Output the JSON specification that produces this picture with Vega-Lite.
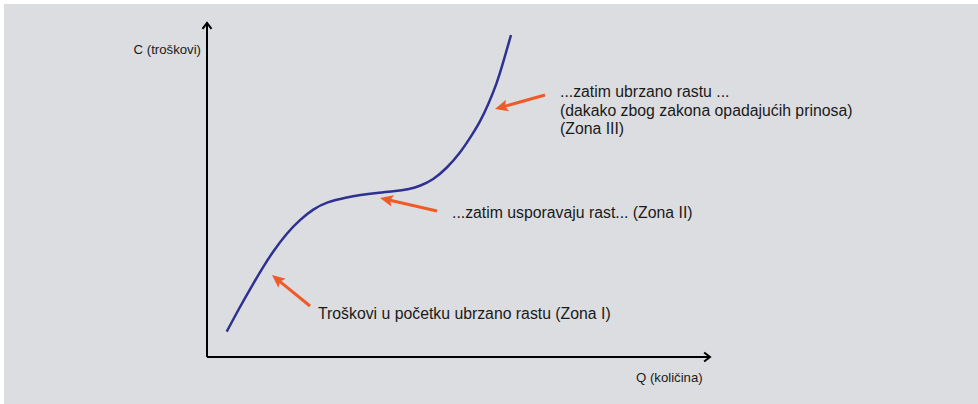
{
  "$schema": "https://vega.github.io/schema/vega-lite/v6.json",
  "width": 974,
  "height": 400,
  "autosize": {"type": "none"},
  "padding": {"left": 4, "top": 4, "right": 0, "bottom": 0},
  "background": "#ffffff",
  "config": {"view": {"fill": "#dcdde0", "stroke": null}},
  "datasets": {
    "curve": [
      {"Q": 1.97, "C": 2.53}, {"Q": 3.3, "C": 5.03}, {"Q": 4.63, "C": 7.35}, {"Q": 5.63, "C": 9.03},
      {"Q": 6.63, "C": 10.6}, {"Q": 7.97, "C": 12.37}, {"Q": 9.3, "C": 13.75}, {"Q": 10.63, "C": 14.8},
      {"Q": 11.97, "C": 15.5}, {"Q": 13.97, "C": 15.97},
      {"Q": 15.3, "C": 16.2}, {"Q": 17.0, "C": 16.4}, {"Q": 18.6, "C": 16.55}, {"Q": 20.3, "C": 16.8},
      {"Q": 21.3, "C": 17.1}, {"Q": 22.6, "C": 17.7}, {"Q": 24.0, "C": 18.9}, {"Q": 25.3, "C": 20.4},
      {"Q": 26.3, "C": 21.9}, {"Q": 27.3, "C": 23.5}, {"Q": 28.1, "C": 25.2}, {"Q": 29.0, "C": 27.4},
      {"Q": 29.6, "C": 29.4}, {"Q": 30.4, "C": 32.2}
    ],
    "arrows": [
      {"tq": 10.3, "tc": 5.1, "hq": 6.5, "hc": 8.2},
      {"tq": 23.0, "tc": 14.6, "hq": 17.3, "hc": 15.9},
      {"tq": 33.8, "tc": 26.2, "hq": 28.8, "hc": 24.8}
    ],
    "axes": [
      {"q": 0, "c": 0, "q2": 0, "c2": 33.4, "ang": -90},
      {"q": 0, "c": 0, "q2": 50.3, "c2": 0, "ang": 0}
    ],
    "yTitle": [{"text": "C (troškovi)", "q": -0.6, "c": 30.3}],
    "xTitle": [{"text": "Q (količina)", "q": 42.9, "c": -2.5}],
    "labels": [
      {"text": "Troškovi u početku ubrzano rastu (Zona I)", "q": 11.1, "c": 3.8},
      {"text": "...zatim usporavaju rast... (Zona II)", "q": 24.5, "c": 13.9},
      {"text": "...zatim ubrzano rastu ...", "q": 35.3, "c": 26.0},
      {"text": "(dakako zbog zakona opadajućih prinosa)", "q": 35.3, "c": 24.15},
      {"text": "(Zona III)", "q": 35.3, "c": 22.3}
    ]
  },
  "layer": [
    {
      "data": {"name": "axes"},
      "mark": {"type": "rule", "color": "#000000", "strokeWidth": 2},
      "encoding": {
        "x": {"field": "q", "type": "quantitative", "scale": {"domain": [-20.3, 77.1], "nice": false, "zero": false}, "axis": null},
        "y": {"field": "c", "type": "quantitative", "scale": {"domain": [-4.7, 35.3], "nice": false, "zero": false}, "axis": null},
        "x2": {"field": "q2"},
        "y2": {"field": "c2"}
      }
    },
    {
      "data": {"name": "axes"},
      "mark": {"type": "point", "shape": "M-1.3,-1L0,0L-1.3,1", "filled": false, "stroke": "#000000", "strokeWidth": 2, "size": 81, "opacity": 1},
      "encoding": {
        "x": {"field": "q2", "type": "quantitative"},
        "y": {"field": "c2", "type": "quantitative"},
        "angle": {"field": "ang", "type": "quantitative", "scale": null}
      }
    },
    {
      "data": {"name": "curve"},
      "mark": {"type": "line", "color": "#2e3192", "strokeWidth": 2.5, "interpolate": "basis"},
      "encoding": {
        "x": {"field": "Q", "type": "quantitative"},
        "y": {"field": "C", "type": "quantitative"}
      }
    },
    {
      "data": {"name": "arrows"},
      "transform": [
        {"calculate": "sqrt(pow(datum.hq - datum.tq, 2) + pow(datum.hc - datum.tc, 2))", "as": "len"},
        {"calculate": "datum.hq - (datum.hq - datum.tq) / datum.len * 0.8", "as": "eq"},
        {"calculate": "datum.hc - (datum.hc - datum.tc) / datum.len * 0.8", "as": "ec"}
      ],
      "mark": {"type": "rule", "color": "#f05a28", "strokeWidth": 3},
      "encoding": {
        "x": {"field": "tq", "type": "quantitative"},
        "y": {"field": "tc", "type": "quantitative"},
        "x2": {"field": "eq"},
        "y2": {"field": "ec"}
      }
    },
    {
      "data": {"name": "arrows"},
      "transform": [
        {"calculate": "atan2(-(datum.hc - datum.tc), datum.hq - datum.tq) * 180 / PI", "as": "ang"}
      ],
      "mark": {"type": "point", "shape": "M0,0L-2,-0.9L-1.6,0L-2,0.9Z", "filled": true, "color": "#f05a28", "size": 169, "opacity": 1},
      "encoding": {
        "x": {"field": "hq", "type": "quantitative"},
        "y": {"field": "hc", "type": "quantitative"},
        "angle": {"field": "ang", "type": "quantitative", "scale": null}
      }
    },
    {
      "data": {"name": "labels"},
      "mark": {"type": "text", "align": "left", "baseline": "alphabetic", "font": "Liberation Sans", "fontSize": 15.8, "color": "#1a1a1a"},
      "encoding": {
        "x": {"field": "q", "type": "quantitative"},
        "y": {"field": "c", "type": "quantitative"},
        "text": {"field": "text"}
      }
    },
    {
      "data": {"name": "yTitle"},
      "mark": {"type": "text", "align": "right", "baseline": "alphabetic", "font": "Liberation Sans", "fontSize": 13.2, "color": "#1a1a1a"},
      "encoding": {
        "x": {"field": "q", "type": "quantitative"},
        "y": {"field": "c", "type": "quantitative"},
        "text": {"field": "text"}
      }
    },
    {
      "data": {"name": "xTitle"},
      "mark": {"type": "text", "align": "left", "baseline": "alphabetic", "font": "Liberation Sans", "fontSize": 13.2, "color": "#1a1a1a"},
      "encoding": {
        "x": {"field": "q", "type": "quantitative"},
        "y": {"field": "c", "type": "quantitative"},
        "text": {"field": "text"}
      }
    }
  ]
}
